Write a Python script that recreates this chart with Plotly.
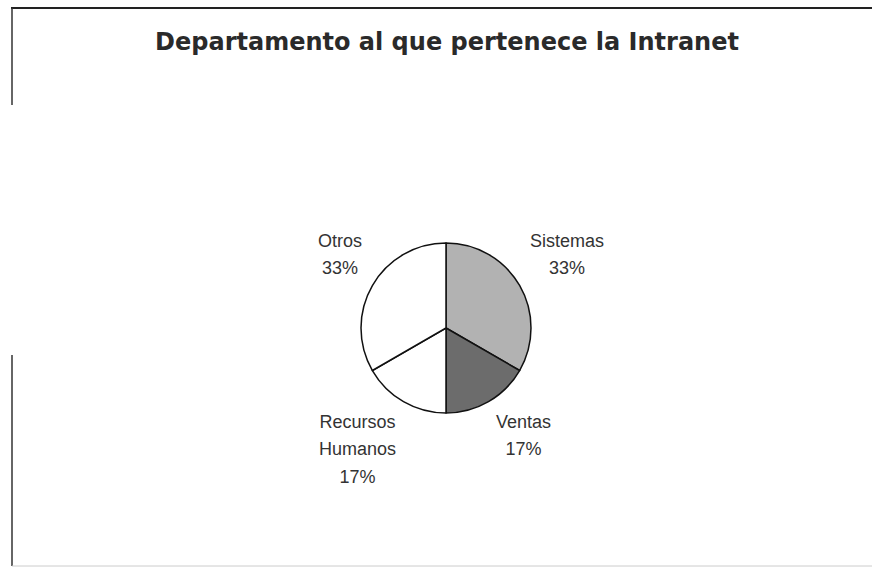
import math
import plotly.graph_objects as go

# Data
categories = ["Sistemas", "Ventas", "Recursos Humanos", "Otros"]
values = [2, 1, 1, 2]
colors = ["#b2b2b2", "#6c6c6c", "#ffffff", "#ffffff"]
title_text = "Departamento al que pertenece la Intranet"

W, H = 872, 570
cx, cy, r = 446, 328, 85
label_dist = 1.12  # label corner distance, in radii

fig = go.Figure(go.Pie(
    labels=categories,
    values=values,
    sort=False,
    direction="clockwise",
    rotation=0,
    marker=dict(colors=colors, line=dict(color="#111111", width=1.5)),
    textinfo="none",
    showlegend=False,
    hoverinfo="skip",
    domain=dict(x=[(cx - r) / W, (cx + r) / W], y=[(H - cy - r) / H, (H - cy + r) / H]),
))

# Outside labels placed from each slice's mid-angle
total = sum(values)
annotations = []
cum = 0
for cat, v in zip(categories, values):
    mid = (cum + v / 2) / total * 2 * math.pi
    cum += v
    s, c = math.sin(mid), math.cos(mid)
    px = cx + label_dist * r * s
    py = cy - label_dist * r * c
    pct = f"{round(100 * v / total)}%"
    lines = cat.split(" ") + [pct]
    text = "<br>".join(f'<span style="font-size:18px">{ln}</span>' for ln in lines)
    annotations.append(dict(
        x=px / W, y=1 - py / H, xref="paper", yref="paper",
        text=text, showarrow=False, align="center",
        xanchor="left" if s > 0 else "right",
        yanchor="bottom" if c > 0 else "top",
        font=dict(family="Liberation Sans, Arial", size=21, color="#333333"),
    ))

fig.update_layout(
    width=W, height=H,
    margin=dict(l=0, r=0, t=0, b=0),
    paper_bgcolor="white",
    plot_bgcolor="white",
    title=dict(
        text=title_text,
        x=447 / W, xanchor="center",
        y=1 - 42 / H, yanchor="middle",
        font=dict(family="DejaVu Sans", size=24, color="#2a2a2a", weight="bold"),
    ),
    annotations=annotations,
    shapes=[
        dict(type="line", xref="paper", yref="paper", x0=11 / W, x1=1, y0=1 - 8 / H, y1=1 - 8 / H,
             line=dict(color="#222222", width=2)),
        dict(type="line", xref="paper", yref="paper", x0=12 / W, x1=12 / W, y0=1 - 8 / H, y1=1 - 105 / H,
             line=dict(color="#333333", width=1.5)),
        dict(type="line", xref="paper", yref="paper", x0=12 / W, x1=12 / W, y0=1 - 355 / H, y1=1 - 566 / H,
             line=dict(color="#333333", width=1.5)),
        dict(type="line", xref="paper", yref="paper", x0=12 / W, x1=1, y0=1 - 566 / H, y1=1 - 566 / H,
             line=dict(color="#cccccc", width=1)),
    ],
)

fig.write_html("out.html")
